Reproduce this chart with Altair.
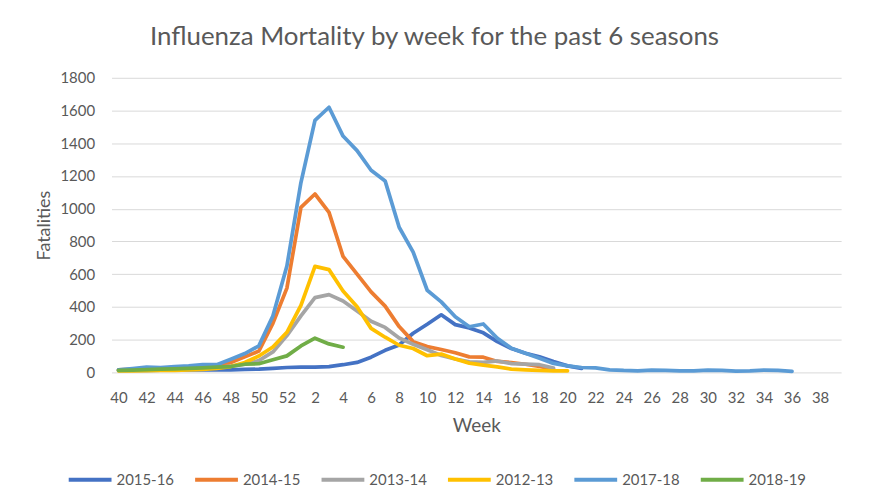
import altair as alt
import pandas as pd

# week order of a flu season: week 40 of one year to week 39 of the next
weeks = list(range(40, 53)) + list(range(1, 40))
tick_weeks = weeks[::2]

seasons = ["2015-16", "2014-15", "2013-14", "2012-13", "2017-18", "2018-19"]
colors = ["#4472C4", "#ED7D31", "#A5A5A5", "#FFC000", "#5B9BD5", "#70AD47"]

# weekly fatalities, each series starting at week 40
s2015_16 = [12, 12, 13, 14, 15, 15, 15, 16, 16, 18, 20, 25, 30,
            32, 32, 36, 47, 61, 93, 135, 168, 239, 294, 352, 292, 272, 242,
            188, 146, 117, 95, 66, 40, 25]
s2014_15 = [16, 18, 20, 22, 24, 26, 28, 32, 60, 95, 130, 300, 515,
            1008, 1090, 978, 709, 600, 492, 405, 280, 188, 158, 140, 120,
            95, 93, 67, 60, 50, 36, 20]
s2013_14 = [15, 17, 19, 21, 23, 25, 27, 30, 38, 50, 72, 125, 225,
            345, 457, 475, 436, 375, 313, 275, 210, 172, 138, 104, 82,
            64, 61, 70, 54, 51, 47, 26]
s2012_13 = [10, 10, 11, 12, 13, 15, 18, 25, 36, 61, 100, 155, 245,
            410, 648, 628, 498, 401, 269, 215, 166, 146, 102, 112, 82,
            57, 45, 34, 20, 16, 12, 10, 10]
s2017_18 = [16, 24, 32, 30, 36, 40, 47, 47, 80, 115, 162, 345, 650,
            1160, 1540, 1620, 1444, 1355, 1235, 1170, 887, 735, 502, 431,
            340, 279, 296, 209, 148, 117, 87, 55, 40, 30, 28, 16, 12, 10,
            14, 12, 10, 10, 14, 12, 8, 10, 14, 12, 6]
s2018_19 = [12, 14, 17, 20, 22, 25, 28, 32, 36, 50, 53, 77, 101,
            162, 209, 174, 154]

series = [s2015_16, s2014_15, s2013_14, s2012_13, s2017_18, s2018_19]

records = []
for season, values in zip(seasons, series):
    for i, v in enumerate(values):
        records.append({"season": season, "week": weeks[i], "order": i,
                        "fatalities": v})
df = pd.DataFrame(records)

FONT = "Lato"
GREY = "#595959"

lines = alt.Chart(df).mark_line(
    strokeWidth=3.75, strokeCap="round", strokeJoin="round"
).encode(
    x=alt.X("week:O", sort=weeks,
            scale=alt.Scale(domain=weeks, type="point", padding=0.5),
            axis=alt.Axis(values=tick_weeks, title="Week", labelAngle=0,
                          grid=False, domain=False, ticks=False,
                          labelPadding=18, titlePadding=11)),
    y=alt.Y("fatalities:Q",
            scale=alt.Scale(domain=[0, 1800], nice=False),
            axis=alt.Axis(values=list(range(0, 1801, 200)), title="Fatalities",
                          format="d", domain=False, ticks=False, labelPadding=17,
                          titlePadding=7, gridColor="#D9D9D9")),
    color=alt.Color("season:N",
                    scale=alt.Scale(domain=seasons, range=colors),
                    legend=alt.Legend(title=None, orient="none", direction="horizontal",
                                      columns=6, gridAlign="all",
                                      legendX=-45, legendY=380,
                                      symbolType="stroke", symbolSize=1849,
                                      symbolStrokeWidth=4, labelOffset=3,
                                      columnPadding=13, labelFontSize=15,
                                      labelColor=GREY, labelFont=FONT)),
    order="order:Q",
)

chart = lines.properties(
    width=733,
    height=296,
    autosize=alt.AutoSizeParams(type="none"),
    padding={"left": 104, "top": 69, "right": 26, "bottom": 114},
    title=alt.TitleParams("Influenza Mortality by week for the past 6 seasons",
                          font=FONT, fontSize=26, fontWeight="normal", color=GREY,
                          anchor="middle", frame="group", baseline="alphabetic",
                          offset=0, dx=-42),
).configure_view(
    stroke=None
).configure_axis(
    labelFont=FONT, labelFontSize=15, labelColor=GREY,
    titleFont=FONT, titleFontWeight="normal", titleColor=GREY,
).configure_axisX(
    titleFontSize=19
).configure_axisY(
    titleFontSize=18
)

chart.save("out.html", embed_options={"renderer": "svg", "actions": False})
